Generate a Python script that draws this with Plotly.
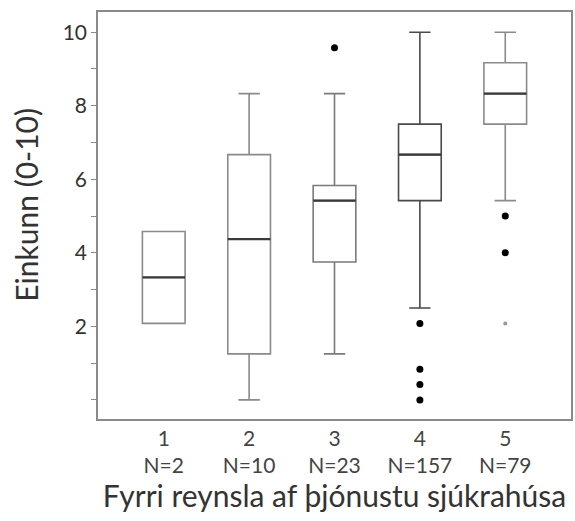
import plotly.graph_objects as go

categories = [1, 2, 3, 4, 5]
n_labels = ["N=2", "N=10", "N=23", "N=157", "N=79"]
q1 = [2.08, 1.25, 3.75, 5.42, 7.5]
median = [3.33, 4.37, 5.42, 6.67, 8.33]
q3 = [4.58, 6.67, 5.83, 7.5, 9.17]
lower = [2.08, 0.0, 1.25, 2.5, 5.42]
upper = [4.58, 8.33, 8.33, 10.0, 10.0]
outlier_x = [3, 4, 4, 4, 4, 5, 5]
outlier_y = [9.58, 2.08, 0.83, 0.42, 0.0, 5.0, 4.0]
extreme_x = [5]
extreme_y = [2.08]
whisker_colors = ["#8a8a8a", "#8a8a8a", "#7a7a7a", "#4a4a4a", "#8a8a8a"]

FONT = "Lato, 'Open Sans', sans-serif"

fig = go.Figure()
for i, c in enumerate(categories):
    fig.add_trace(go.Box(
        x=[c], q1=[q1[i]], median=[median[i]], q3=[q3[i]],
        lowerfence=[lower[i]], upperfence=[upper[i]],
        width=0.5, whiskerwidth=0.5,
        fillcolor="white", line=dict(color=whisker_colors[i], width=1.6),
        boxpoints=False, showlegend=False, hoverinfo="skip",
    ))
    # darker median line
    fig.add_trace(go.Box(
        x=[c], q1=[median[i]], median=[median[i]], q3=[median[i]],
        lowerfence=[median[i]], upperfence=[median[i]],
        width=0.5, whiskerwidth=0,
        fillcolor="rgba(0,0,0,0)", line=dict(color="#3a3a3a", width=2.2),
        boxpoints=False, showlegend=False, hoverinfo="skip",
    ))

fig.add_trace(go.Scatter(
    x=outlier_x, y=outlier_y, mode="markers",
    marker=dict(color="black", size=7), showlegend=False, hoverinfo="skip",
))
fig.add_trace(go.Scatter(
    x=extreme_x, y=extreme_y, mode="markers",
    marker=dict(color="#999999", size=4), showlegend=False, hoverinfo="skip",
))

ytickvals = list(range(0, 11))
yticktext = [str(v) if (v % 2 == 0 and v > 0) else "" for v in ytickvals]

fig.update_layout(
    width=575, height=521,
    margin=dict(l=98, r=2, t=12, b=102),
    paper_bgcolor="white", plot_bgcolor="white",
    font=dict(family=FONT, color="#333333"),
    xaxis=dict(
        range=[0.23, 5.77], tickvals=categories,
        ticktext=[f"{c}<br>{n}" for c, n in zip(categories, n_labels)],
        tickfont=dict(size=21, color="#444444"),
        showline=True, mirror=True, linecolor="#8a8a8a", linewidth=1.6,
        showgrid=False, zeroline=False, ticks="",
        title=dict(text="Fyrri reynsla af þjónustu sjúkrahúsa",
                   font=dict(size=30, color="#333333"), standoff=6),
    ),
    yaxis=dict(
        range=[-0.52, 10.55], tickvals=ytickvals, ticktext=yticktext,
        tickfont=dict(size=21, color="#333333"),
        ticks="outside", ticklen=5, tickcolor="#8a8a8a", tickwidth=1.2,
        showline=True, mirror=True, linecolor="#8a8a8a", linewidth=1.6,
        showgrid=False, zeroline=False,
    ),
    annotations=[dict(
        text="Einkunn (0-10)", textangle=-90, showarrow=False,
        xref="paper", yref="paper", x=-0.154, y=0.527,
        xanchor="center", yanchor="middle",
        font=dict(size=30, color="#333333"),
    )],
)

fig.write_html(
    "out.html",
    config={"displayModeBar": False},
    post_script="document.body.style.margin='0';document.body.style.overflow='hidden';",
)
